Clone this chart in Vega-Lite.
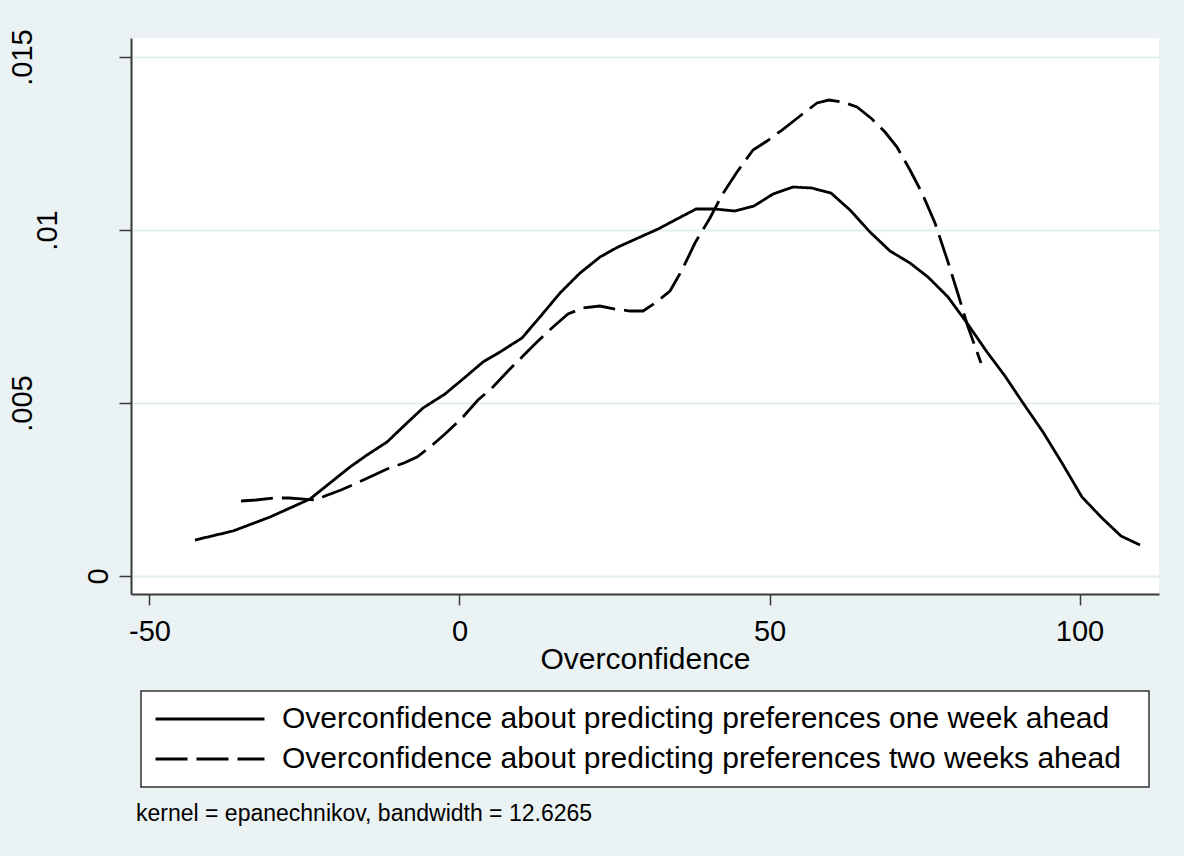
{
  "$schema": "https://vega.github.io/schema/vega-lite/v6.json",
  "width": 1028,
  "height": 556,
  "autosize": "none",
  "padding": {"left": 131, "top": 38, "right": 25, "bottom": 262},
  "background": "#EAF2F3",
  "config": {
    "view": {"fill": "white", "stroke": null},
    "font": "Liberation Sans"
  },
  "data": {
    "values": [
      {"series": "Overconfidence about predicting preferences one week ahead", "x": -42.66, "y": 0.001040},
      {"series": "Overconfidence about predicting preferences one week ahead", "x": -36.53, "y": 0.001301},
      {"series": "Overconfidence about predicting preferences one week ahead", "x": -30.56, "y": 0.001705},
      {"series": "Overconfidence about predicting preferences one week ahead", "x": -27.34, "y": 0.001965},
      {"series": "Overconfidence about predicting preferences one week ahead", "x": -24.11, "y": 0.002225},
      {"series": "Overconfidence about predicting preferences one week ahead", "x": -20.89, "y": 0.002688},
      {"series": "Overconfidence about predicting preferences one week ahead", "x": -17.66, "y": 0.003150},
      {"series": "Overconfidence about predicting preferences one week ahead", "x": -14.92, "y": 0.003497},
      {"series": "Overconfidence about predicting preferences one week ahead", "x": -11.69, "y": 0.003873},
      {"series": "Overconfidence about predicting preferences one week ahead", "x": -8.47, "y": 0.004422},
      {"series": "Overconfidence about predicting preferences one week ahead", "x": -5.89, "y": 0.004855},
      {"series": "Overconfidence about predicting preferences one week ahead", "x": -2.34, "y": 0.005260},
      {"series": "Overconfidence about predicting preferences one week ahead", "x": 0.56, "y": 0.005694},
      {"series": "Overconfidence about predicting preferences one week ahead", "x": 3.79, "y": 0.006185},
      {"series": "Overconfidence about predicting preferences one week ahead", "x": 6.53, "y": 0.006474},
      {"series": "Overconfidence about predicting preferences one week ahead", "x": 10.08, "y": 0.006879},
      {"series": "Overconfidence about predicting preferences one week ahead", "x": 12.98, "y": 0.007486},
      {"series": "Overconfidence about predicting preferences one week ahead", "x": 16.21, "y": 0.008179},
      {"series": "Overconfidence about predicting preferences one week ahead", "x": 19.44, "y": 0.008757},
      {"series": "Overconfidence about predicting preferences one week ahead", "x": 22.66, "y": 0.009220},
      {"series": "Overconfidence about predicting preferences one week ahead", "x": 25.56, "y": 0.009509},
      {"series": "Overconfidence about predicting preferences one week ahead", "x": 28.79, "y": 0.009769},
      {"series": "Overconfidence about predicting preferences one week ahead", "x": 32.02, "y": 0.010029},
      {"series": "Overconfidence about predicting preferences one week ahead", "x": 35.08, "y": 0.010318},
      {"series": "Overconfidence about predicting preferences one week ahead", "x": 38.15, "y": 0.010607},
      {"series": "Overconfidence about predicting preferences one week ahead", "x": 41.21, "y": 0.010607},
      {"series": "Overconfidence about predicting preferences one week ahead", "x": 44.44, "y": 0.010549},
      {"series": "Overconfidence about predicting preferences one week ahead", "x": 47.50, "y": 0.010694},
      {"series": "Overconfidence about predicting preferences one week ahead", "x": 50.56, "y": 0.011040},
      {"series": "Overconfidence about predicting preferences one week ahead", "x": 53.79, "y": 0.011243},
      {"series": "Overconfidence about predicting preferences one week ahead", "x": 56.85, "y": 0.011214},
      {"series": "Overconfidence about predicting preferences one week ahead", "x": 59.92, "y": 0.011069},
      {"series": "Overconfidence about predicting preferences one week ahead", "x": 62.98, "y": 0.010578},
      {"series": "Overconfidence about predicting preferences one week ahead", "x": 66.21, "y": 0.009942},
      {"series": "Overconfidence about predicting preferences one week ahead", "x": 69.44, "y": 0.009393},
      {"series": "Overconfidence about predicting preferences one week ahead", "x": 72.66, "y": 0.009046},
      {"series": "Overconfidence about predicting preferences one week ahead", "x": 75.56, "y": 0.008642},
      {"series": "Overconfidence about predicting preferences one week ahead", "x": 78.79, "y": 0.008064},
      {"series": "Overconfidence about predicting preferences one week ahead", "x": 81.85, "y": 0.007312},
      {"series": "Overconfidence about predicting preferences one week ahead", "x": 85.08, "y": 0.006474},
      {"series": "Overconfidence about predicting preferences one week ahead", "x": 87.98, "y": 0.005780},
      {"series": "Overconfidence about predicting preferences one week ahead", "x": 90.89, "y": 0.005000},
      {"series": "Overconfidence about predicting preferences one week ahead", "x": 94.11, "y": 0.004162},
      {"series": "Overconfidence about predicting preferences one week ahead", "x": 97.18, "y": 0.003266},
      {"series": "Overconfidence about predicting preferences one week ahead", "x": 100.40, "y": 0.002283},
      {"series": "Overconfidence about predicting preferences one week ahead", "x": 103.63, "y": 0.001676},
      {"series": "Overconfidence about predicting preferences one week ahead", "x": 106.69, "y": 0.001156},
      {"series": "Overconfidence about predicting preferences one week ahead", "x": 109.76, "y": 0.000896},
      {"series": "Overconfidence about predicting preferences two weeks ahead", "x": -35.24, "y": 0.002168},
      {"series": "Overconfidence about predicting preferences two weeks ahead", "x": -32.82, "y": 0.002197},
      {"series": "Overconfidence about predicting preferences two weeks ahead", "x": -29.92, "y": 0.002254},
      {"series": "Overconfidence about predicting preferences two weeks ahead", "x": -27.50, "y": 0.002254},
      {"series": "Overconfidence about predicting preferences two weeks ahead", "x": -25.08, "y": 0.002225},
      {"series": "Overconfidence about predicting preferences two weeks ahead", "x": -23.15, "y": 0.002197},
      {"series": "Overconfidence about predicting preferences two weeks ahead", "x": -21.69, "y": 0.002312},
      {"series": "Overconfidence about predicting preferences two weeks ahead", "x": -19.11, "y": 0.002486},
      {"series": "Overconfidence about predicting preferences two weeks ahead", "x": -16.53, "y": 0.002688},
      {"series": "Overconfidence about predicting preferences two weeks ahead", "x": -14.11, "y": 0.002890},
      {"series": "Overconfidence about predicting preferences two weeks ahead", "x": -11.69, "y": 0.003092},
      {"series": "Overconfidence about predicting preferences two weeks ahead", "x": -8.95, "y": 0.003266},
      {"series": "Overconfidence about predicting preferences two weeks ahead", "x": -6.85, "y": 0.003439},
      {"series": "Overconfidence about predicting preferences two weeks ahead", "x": -4.76, "y": 0.003728},
      {"series": "Overconfidence about predicting preferences two weeks ahead", "x": -2.34, "y": 0.004104},
      {"series": "Overconfidence about predicting preferences two weeks ahead", "x": 0.56, "y": 0.004595},
      {"series": "Overconfidence about predicting preferences two weeks ahead", "x": 2.98, "y": 0.005087},
      {"series": "Overconfidence about predicting preferences two weeks ahead", "x": 5.40, "y": 0.005462},
      {"series": "Overconfidence about predicting preferences two weeks ahead", "x": 7.82, "y": 0.005925},
      {"series": "Overconfidence about predicting preferences two weeks ahead", "x": 10.24, "y": 0.006358},
      {"series": "Overconfidence about predicting preferences two weeks ahead", "x": 12.66, "y": 0.006792},
      {"series": "Overconfidence about predicting preferences two weeks ahead", "x": 15.08, "y": 0.007197},
      {"series": "Overconfidence about predicting preferences two weeks ahead", "x": 17.50, "y": 0.007572},
      {"series": "Overconfidence about predicting preferences two weeks ahead", "x": 19.92, "y": 0.007746},
      {"series": "Overconfidence about predicting preferences two weeks ahead", "x": 22.66, "y": 0.007803},
      {"series": "Overconfidence about predicting preferences two weeks ahead", "x": 25.08, "y": 0.007717},
      {"series": "Overconfidence about predicting preferences two weeks ahead", "x": 27.50, "y": 0.007659},
      {"series": "Overconfidence about predicting preferences two weeks ahead", "x": 29.60, "y": 0.007659},
      {"series": "Overconfidence about predicting preferences two weeks ahead", "x": 31.53, "y": 0.007890},
      {"series": "Overconfidence about predicting preferences two weeks ahead", "x": 33.95, "y": 0.008237},
      {"series": "Overconfidence about predicting preferences two weeks ahead", "x": 35.89, "y": 0.008844},
      {"series": "Overconfidence about predicting preferences two weeks ahead", "x": 37.98, "y": 0.009624},
      {"series": "Overconfidence about predicting preferences two weeks ahead", "x": 40.40, "y": 0.010347},
      {"series": "Overconfidence about predicting preferences two weeks ahead", "x": 42.34, "y": 0.011012},
      {"series": "Overconfidence about predicting preferences two weeks ahead", "x": 44.76, "y": 0.011676},
      {"series": "Overconfidence about predicting preferences two weeks ahead", "x": 47.34, "y": 0.012312},
      {"series": "Overconfidence about predicting preferences two weeks ahead", "x": 49.60, "y": 0.012572},
      {"series": "Overconfidence about predicting preferences two weeks ahead", "x": 52.02, "y": 0.012890},
      {"series": "Overconfidence about predicting preferences two weeks ahead", "x": 54.92, "y": 0.013295},
      {"series": "Overconfidence about predicting preferences two weeks ahead", "x": 57.66, "y": 0.013671},
      {"series": "Overconfidence about predicting preferences two weeks ahead", "x": 59.60, "y": 0.013757},
      {"series": "Overconfidence about predicting preferences two weeks ahead", "x": 61.85, "y": 0.013699},
      {"series": "Overconfidence about predicting preferences two weeks ahead", "x": 64.11, "y": 0.013555},
      {"series": "Overconfidence about predicting preferences two weeks ahead", "x": 66.53, "y": 0.013208},
      {"series": "Overconfidence about predicting preferences two weeks ahead", "x": 68.63, "y": 0.012832},
      {"series": "Overconfidence about predicting preferences two weeks ahead", "x": 70.56, "y": 0.012399},
      {"series": "Overconfidence about predicting preferences two weeks ahead", "x": 72.66, "y": 0.011734},
      {"series": "Overconfidence about predicting preferences two weeks ahead", "x": 74.60, "y": 0.011069},
      {"series": "Overconfidence about predicting preferences two weeks ahead", "x": 76.69, "y": 0.010202},
      {"series": "Overconfidence about predicting preferences two weeks ahead", "x": 78.79, "y": 0.009075},
      {"series": "Overconfidence about predicting preferences two weeks ahead", "x": 80.40, "y": 0.008150},
      {"series": "Overconfidence about predicting preferences two weeks ahead", "x": 82.02, "y": 0.007197},
      {"series": "Overconfidence about predicting preferences two weeks ahead", "x": 84.11, "y": 0.006156}
    ]
  },
  "mark": {"type": "line", "strokeWidth": 2.8, "color": "black", "strokeCap": "butt"},
  "encoding": {
    "x": {
      "field": "x",
      "type": "quantitative",
      "scale": {"domain": [-52.98, 112.82], "nice": false, "zero": false},
      "axis": {
        "values": [-50, 0, 50, 100],
        "labelExpr": "'' + datum.value",
        "grid": false,
        "tickSize": 11,
        "tickWidth": 1.5,
        "tickColor": "#3a3a3a",
        "domainColor": "#3a3a3a",
        "domainWidth": 2,
        "labelFontSize": 29,
        "labelColor": "black",
        "labelPadding": 12,
        "labelFlush": false,
        "labelOverlap": false,
        "title": "Overconfidence",
        "titleFontSize": 30,
        "titleFontWeight": "normal",
        "titleColor": "black",
        "titlePadding": -2
      }
    },
    "y": {
      "field": "y",
      "type": "quantitative",
      "scale": {"domain": [-0.00052, 0.01555], "nice": false, "zero": false},
      "axis": {
        "values": [0, 0.005, 0.01, 0.015],
        "labelExpr": "datum.value == 0 ? '0' : substring(format(datum.value, '~g'), 1)",
        "labelAngle": -90,
        "labelAlign": "center",
        "labelBaseline": "bottom",
        "labelFontSize": 29,
        "labelColor": "black",
        "labelPadding": {
          "condition": [
            {"test": "datum.value == 0", "value": 6},
            {"test": "datum.value == 0.01", "value": 57}
          ],
          "value": 82
        },
        "labelFlush": false,
        "labelOverlap": false,
        "tickSize": 12,
        "tickWidth": 1.5,
        "tickColor": "#3a3a3a",
        "domainColor": "#3a3a3a",
        "domainWidth": 2,
        "grid": true,
        "gridColor": "#E4EEF0",
        "gridWidth": 2,
        "title": null
      }
    },
    "strokeDash": {
      "field": "series",
      "type": "nominal",
      "scale": {
        "domain": [
          "Overconfidence about predicting preferences one week ahead",
          "Overconfidence about predicting preferences two weeks ahead"
        ],
        "range": [[1, 0], [32, 9]]
      },
      "legend": {
        "title": " ",
        "titleOrient": "right",
        "titleFontSize": 10,
        "titlePadding": 15,
        "orient": "none",
        "legendX": 10,
        "legendY": 653,
        "direction": "vertical",
        "symbolType": "stroke",
        "symbolSize": 11881,
        "symbolStrokeWidth": 2.8,
        "symbolStrokeColor": "black",
        "labelFontSize": 30,
        "labelFont": "Liberation Sans",
        "labelColor": "black",
        "labelOffset": 16,
        "labelLimit": 0,
        "clipHeight": 30,
        "rowPadding": 10,
        "padding": 13,
        "fillColor": "white",
        "strokeColor": "#333333",
        "encode": {"legend": {"update": {"strokeWidth": {"value": 1.5}}}}
      }
    }
  },
  "title": {
    "text": "kernel = epanechnikov, bandwidth = 12.6265",
    "orient": "bottom",
    "anchor": "start",
    "frame": "group",
    "fontSize": 23,
    "fontWeight": "normal",
    "color": "black",
    "offset": 15,
    "dx": 5
  }
}
